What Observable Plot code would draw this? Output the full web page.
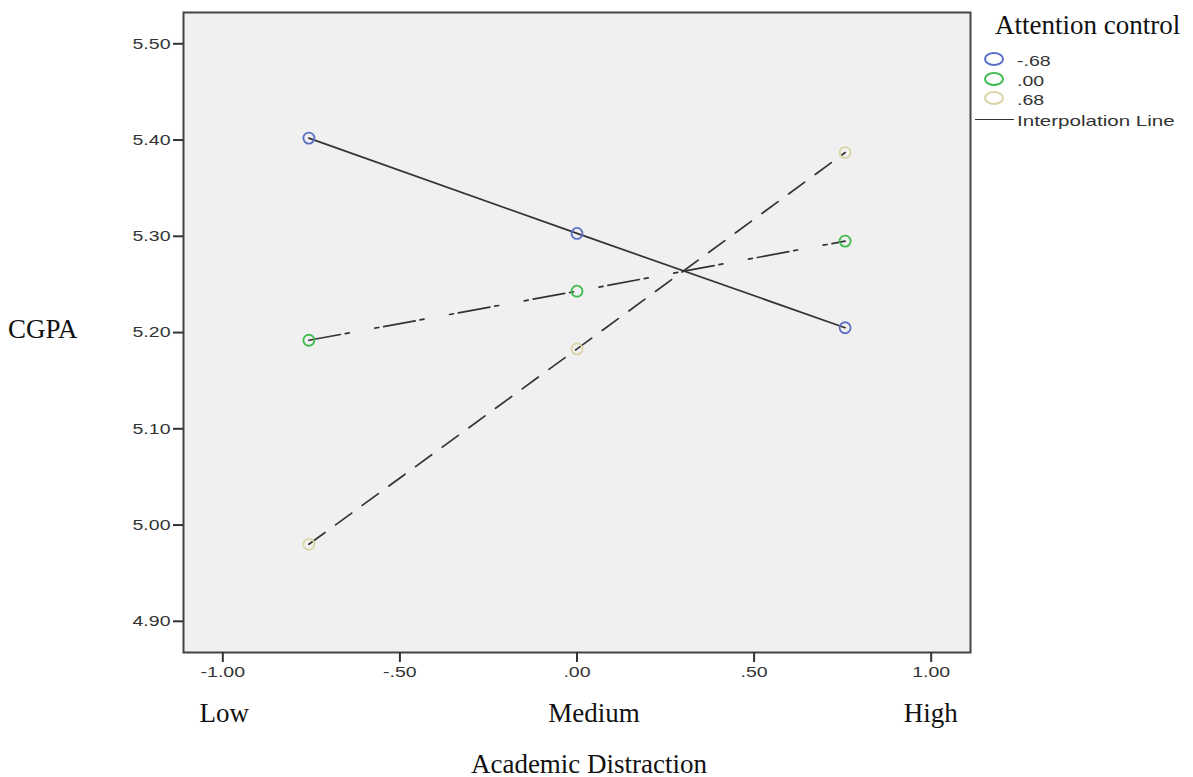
<!DOCTYPE html>
<html>
<head>
<meta charset="utf-8">
<script src="https://cdn.jsdelivr.net/npm/d3@7"></script>
<script src="https://cdn.jsdelivr.net/npm/@observablehq/plot@0.6"></script>
<style>
  html, body { margin: 0; padding: 0; background: #fff; }
  #wrap { position: relative; width: 1193px; height: 777px; overflow: hidden; }
  .serif { font-family: "Liberation Serif", "Times New Roman", serif; color: #111; position: absolute; white-space: nowrap; }
  .sans { font-family: "Liberation Sans", Arial, sans-serif; color: #333; position: absolute; white-space: nowrap; }
</style>
</head>
<body>
<div id="wrap"></div>
<script>
// ---- data ----
const academicDistraction = [-0.757, 0, 0.757];
const groups = ["-.68", ".00", ".68"];
const cgpaMinus68 = [5.402, 5.303, 5.205];
const cgpa00 = [5.192, 5.243, 5.295];
const cgpa68 = [4.980, 5.183, 5.387];
const groupColors = ["#5b6fc6", "#3fbb4d", "#d9d4a3"];
const groupDash = [null, "32,5,4,26,4,5", "20,13"];
const xTicks = [-1, -0.5, 0, 0.5, 1];
const yTicks = [4.9, 5.0, 5.1, 5.2, 5.3, 5.4, 5.5];
const levelLabels = ["Low", "Medium", "High"];

const seriesValues = [cgpaMinus68, cgpa00, cgpa68];
const rows = [];
groups.forEach((g, i) => {
  academicDistraction.forEach((x, j) => rows.push({group: g, x, y: seriesValues[i][j]}));
});

const fmtX = d => d.toFixed(2).replace(/^(-?)0\./, "$1.");
const fmtY = d => d.toFixed(2);

const marks = [
  Plot.frame({fill: "#f0f0f0", stroke: "none"}),
  ...groups.map((g, i) => Plot.line(rows.filter(r => r.group === g), {
    x: "x", y: "y", stroke: "#333", strokeWidth: 1.7,
    strokeDasharray: groupDash[i] ?? undefined
  })),
  Plot.dot(rows, {x: "x", y: "y", r: 5.5, stroke: d => groupColors[groups.indexOf(d.group)], strokeWidth: 1.8, fill: "none"}),
  Plot.frame({stroke: "#444", strokeWidth: 2}),
  Plot.axisY(yTicks, {tickFormat: fmtY, tickSize: 10, tickPadding: 3, stroke: "#333", strokeWidth: 2, fill: "#333", label: null}),
  Plot.axisX(xTicks, {tickFormat: fmtX, tickSize: 10, tickPadding: 4, stroke: "#333", strokeWidth: 2, fill: "#333", label: null})
];

const svg = Plot.plot({
  width: 1193,
  height: 777,
  marginLeft: 183,
  marginRight: 223,
  marginTop: 12,
  marginBottom: 125,
  x: {domain: [-1.111, 1.111]},
  y: {domain: [4.8676, 5.5325]},
  style: {fontFamily: "'Liberation Sans', Arial, sans-serif", fontSize: "15px", background: "transparent", color: "#333"},
  marks
});
const wrap = document.getElementById("wrap");
wrap.appendChild(svg);

// the reference's sans text is horizontally stretched; widen tick labels
svg.querySelectorAll("g[aria-label='y-axis tick label'] text, g[aria-label='x-axis tick label'] text").forEach(t => {
  const w = t.getComputedTextLength();
  t.setAttribute("textLength", (w * 1.3).toFixed(1));
  t.setAttribute("lengthAdjust", "spacingAndGlyphs");
});

// ---- annotation text positioned from scales ----
const xs = svg.scale("x");
function addText(cls, txt, left, top, size, anchor, stretch) {
  const d = document.createElement("div");
  d.className = cls;
  d.textContent = txt;
  d.style.fontSize = size + "px";
  d.style.left = left + "px";
  d.style.top = top + "px";
  d.style.transformOrigin = "0 50%";
  const sx = stretch ? ` scaleX(${stretch})` : "";
  if (anchor === "middle") d.style.transform = "translate(-50%, -50%)" + sx;
  else d.style.transform = "translate(0, -50%)" + sx;
  wrap.appendChild(d);
  return d;
}
addText("serif", "CGPA", 8, 329, 27);
const levelX = [xs.apply(xTicks[0]) + 2, 594, xs.apply(xTicks[4])];
levelLabels.forEach((t, i) => addText("serif", t, levelX[i], 713, 27, "middle"));
addText("serif", "Academic Distraction", 589, 764, 27, "middle");

// legend
addText("serif", "Attention control", 995, 25, 27);
groups.forEach((g, i) => {
  const y = 59 + i * 19.5;
  const c = document.createElement("div");
  c.style.cssText = `position:absolute;left:984px;top:${y - 7}px;width:16px;height:10px;border:2px solid ${groupColors[i]};border-radius:50%;`;
  wrap.appendChild(c);
  addText("sans", g, 1017, y + 1, 15, null, 1.3);
});
const ln = document.createElement("div");
ln.style.cssText = "position:absolute;left:975px;top:119px;width:39px;height:0;border-top:1.5px solid #333;";
wrap.appendChild(ln);
addText("sans", "Interpolation Line", 1017, 120, 15, null, 1.37);
</script>
</body>
</html>
